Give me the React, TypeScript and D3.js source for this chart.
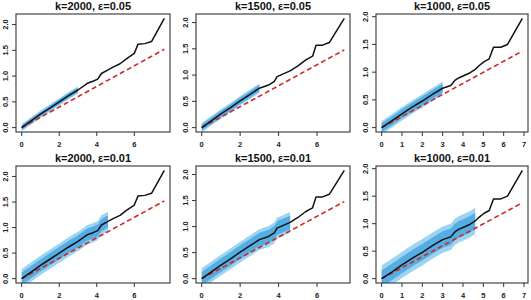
import * as d3 from 'd3';

// cumulative curve per k (x, y)
const kValues = [2000, 1500, 1000];
const epsValues = [0.05, 0.01];

const lineK2000: [number, number][] = [
  [0, 0], [0.5, 0.13], [1, 0.26], [1.5, 0.38], [2, 0.5], [2.5, 0.62], [3, 0.73],
  [3.5, 0.86], [3.8, 0.9], [4.05, 0.94], [4.25, 1.05], [4.6, 1.12], [4.9, 1.18],
  [5.24, 1.24], [5.6, 1.34], [6.0, 1.44], [6.2, 1.62], [6.56, 1.63], [6.92, 1.67], [7.6, 2.12],
];
const lineK1500: [number, number][] = [
  [0, 0], [0.5, 0.13], [1, 0.26], [1.5, 0.38], [2, 0.51], [2.5, 0.63], [3, 0.75],
  [3.48, 0.81], [3.78, 0.88], [3.92, 0.97], [4.04, 0.99], [4.6, 1.08], [4.99, 1.17],
  [5.42, 1.29], [5.77, 1.36], [5.95, 1.57], [6.29, 1.57], [6.64, 1.62], [7.42, 2.08],
];
const lineK1000: [number, number][] = [
  [0, 0], [0.5, 0.12], [1, 0.25], [1.5, 0.37], [2, 0.48], [2.5, 0.6], [3, 0.71],
  [3.4, 0.76], [3.6, 0.85], [3.81, 0.9], [4.06, 0.94], [4.3, 0.98], [4.6, 1.05],
  [4.8, 1.12], [5.04, 1.19], [5.29, 1.24], [5.5, 1.45], [5.86, 1.45], [6.19, 1.5], [6.92, 1.97],
];
const curves = [lineK2000, lineK1500, lineK1000];

// red dashed reference line end points (starts at 0,0)
const refEnd: [number, number][] = [[7.6, 1.52], [7.42, 1.48], [6.92, 1.38]];

// band extent in x for each epsilon, and half widths (outer / inner) per k
const bandEnd = [3, 4.6];
const outerHalf005 = [0.07, 0.09, 0.12];
const innerHalf005 = [0.045, 0.06, 0.08];
const outerHalf001 = [0.19, 0.2, 0.24];
const innerHalf001 = [0.12, 0.13, 0.15];

const xTicksByK = [[0, 2, 4, 6], [0, 2, 4, 6], [0, 1, 2, 3, 4, 5, 6, 7]];
const yTicks = [0, 0.5, 1, 1.5, 2];

const colLeft = [16, 196, 376];
const colRight = [170, 350, 528];
const rowTop = [14, 166];
const rowBottom = [132, 283];

const font = 'Liberation Sans, Arial, Helvetica, sans-serif';

function Panel({ col, row }: { col: number; row: number }) {
  const data = curves[col];
  const x0 = colLeft[col], x1 = colRight[col];
  const y0 = rowTop[row], y1 = rowBottom[row];
  const xMax = d3.max(data, d => d[0]) as number;
  const yMax = d3.max(data, d => d[1]) as number;
  const x = d3.scaleLinear().domain([-0.04 * xMax, xMax * 1.04]).range([x0, x1]);
  const y = d3.scaleLinear().domain([-0.04 * yMax, yMax * 1.04]).range([y1, y0]);

  const bandData = data.filter(d => d[0] <= bandEnd[row]);
  const outer = row === 0 ? outerHalf005[col] : outerHalf001[col];
  const inner = row === 0 ? innerHalf005[col] : innerHalf001[col];
  const area = (h: number) =>
    d3.area<[number, number]>()
      .x(d => x(d[0]))
      .y0(d => y(d[1] - h))
      .y1(d => y(d[1] + h))(bandData) || '';
  const line = d3.line<[number, number]>().x(d => x(d[0])).y(d => y(d[1]));
  const clipId = `clip-${row}-${col}`;

  return (
    <g>
      <defs>
        <clipPath id={clipId}>
          <rect x={x0} y={y0} width={x1 - x0} height={y1 - y0} />
        </clipPath>
      </defs>
      <g clipPath={`url(#${clipId})`}>
        <path d={area(outer)} fill="#9dd4f2" />
        <path d={area(inner)} fill="#55aee3" />
        <path d={line([[0, 0], refEnd[col]]) || ''} fill="none" stroke="#cc2a2a" strokeWidth={1.6} strokeDasharray="5,3" />
        <path d={line(data) || ''} fill="none" stroke="#111" strokeWidth={1.5} strokeLinejoin="round" />
      </g>
      <rect x={x0} y={y0} width={x1 - x0} height={y1 - y0} fill="none" stroke="#333" strokeWidth={1.1} />
      <text x={(x0 + x1) / 2} y={y0 - 4} textAnchor="middle" fontFamily={font} fontWeight="bold" fontSize={11} fill="#111">
        {`k=${kValues[col]}, ε=${epsValues[row].toFixed(2)}`}
      </text>
      {xTicksByK[col].map(t => (
        <g key={`x${t}`}>
          <line x1={x(t)} x2={x(t)} y1={y1} y2={y1 + 4} stroke="#333" />
          <text x={x(t)} y={y1 + 15} textAnchor="middle" fontFamily={font} fontWeight="bold" fontSize={7.5} fill="#222">
            {t}
          </text>
        </g>
      ))}
      {yTicks.map(t => (
        <g key={`y${t}`}>
          <line x1={x0 - 4} x2={x0} y1={y(t)} y2={y(t)} stroke="#333" />
          <text
            transform={`translate(${x0 - 8},${y(t)}) rotate(-90)`}
            textAnchor="middle"
            fontFamily={font}
            fontWeight="bold"
            fontSize={7.5}
            fill="#222"
          >
            {t.toFixed(1)}
          </text>
        </g>
      ))}
    </g>
  );
}

export default function App() {
  return (
    <div>
      <style>{`body{margin:0}`}</style>
      <svg width={531} height={300} style={{ display: 'block', background: '#fff' }}>
        {[0, 1].map(row =>
          [0, 1, 2].map(col => <Panel key={`${row}-${col}`} row={row} col={col} />)
        )}
      </svg>
    </div>
  );
}
